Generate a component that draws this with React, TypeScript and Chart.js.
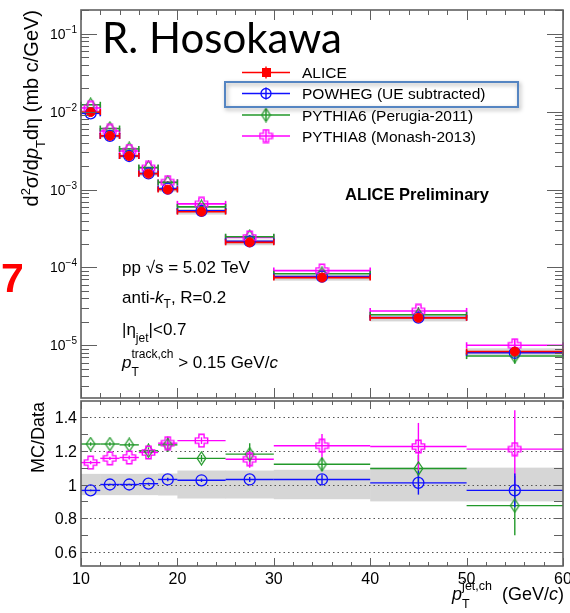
import React, { useEffect, useRef } from "react";
import { Chart, registerables } from "chart.js";

Chart.register(...registerables);

// ---- binning (GeV/c) ----
const binLow = [10, 12, 14, 16, 18, 20, 25, 30, 40, 50];
const binHigh = [12, 14, 16, 18, 20, 25, 30, 40, 50, 60];
const binCenter = [11, 13, 15, 17, 19, 22.5, 27.5, 35, 45, 55];

// ---- cross sections d2sigma/dpT deta (mb c/GeV) ----
const aliceXsec = [9.9e-3, 4.9e-3, 2.7e-3, 1.6e-3, 1.0e-3, 5.2e-4, 2.1e-4, 7.4e-5, 2.25e-5, 8.3e-6];
const aliceStatRel = [0.004, 0.005, 0.006, 0.007, 0.008, 0.008, 0.012, 0.015, 0.03, 0.05];
const aliceSysRel = [0.063, 0.063, 0.063, 0.063, 0.065, 0.083, 0.083, 0.087, 0.1, 0.1];
const powhegXsec = [9.55e-3, 4.9e-3, 2.7e-3, 1.61e-3, 1.03e-3, 5.33e-4, 2.16e-4, 7.62e-5, 2.27e-5, 8.0e-6];
const pythia6Xsec = [1.228e-2, 6.08e-3, 3.33e-3, 1.92e-3, 1.235e-3, 6.0e-4, 2.48e-4, 8.29e-5, 2.46e-5, 7.26e-6];
const pythia8Xsec = [1.119e-2, 5.66e-3, 3.13e-3, 1.9e-3, 1.245e-3, 6.55e-4, 2.42e-4, 9.1e-5, 2.76e-5, 1.0e-5];

// ---- MC / Data ratios ----
const powhegRatio = [0.965, 1.0, 1.0, 1.005, 1.03, 1.025, 1.03, 1.03, 1.01, 0.965];
const powhegRatioErr = [0.005, 0.005, 0.005, 0.006, 0.01, 0.01, 0.015, 0.03, 0.07, 0.1];
const pythia6Ratio = [1.24, 1.24, 1.235, 1.2, 1.235, 1.155, 1.18, 1.12, 1.095, 0.875];
const pythia6RatioErr = [0.01, 0.01, 0.012, 0.02, 0.04, 0.02, 0.065, 0.04, 0.08, 0.175];
const pythia8Ratio = [1.13, 1.155, 1.16, 1.19, 1.245, 1.26, 1.15, 1.23, 1.225, 1.21];
const pythia8RatioErr = [0.01, 0.01, 0.012, 0.02, 0.04, 0.02, 0.05, 0.07, 0.14, 0.23];

// ---- axis tick labels ----
const xTickLabels = [10, 20, 30, 40, 50, 60];
const logDecades = [-5, -4, -3, -2, -1];
const ratioTickLabels = ["0.6", "0.8", "1", "1.2", "1.4"];
const legendLabels = ["ALICE", "POWHEG (UE subtracted)", "PYTHIA6 (Perugia-2011)", "PYTHIA8 (Monash-2013)"];

const RED = "#ff0000";
const BLUE = "#1010ff";
const GREEN = "#22992a";
const MAGENTA = "#ff00ff";
const AXIS = "#606060";
const FONT = '"Liberation Sans", Arial, Helvetica, sans-serif';

type Part = { t: string; s: number; dy?: number; i?: boolean; b?: boolean; alt?: Part };

function fontStr(s: number, i?: boolean, b?: boolean) {
  return `${i ? "italic " : ""}${b ? "bold " : ""}${s}px ${FONT}`;
}
function partAdvance(ctx: CanvasRenderingContext2D, p: Part) {
  ctx.font = fontStr(p.s, p.i, p.b);
  let w = ctx.measureText(p.t).width;
  if (p.alt) {
    ctx.font = fontStr(p.alt.s, p.alt.i, p.alt.b);
    w = Math.max(w, ctx.measureText(p.alt.t).width);
  }
  return w;
}
function drawRich(ctx: CanvasRenderingContext2D, parts: Part[], x: number, y: number, align = "left") {
  let total = 0;
  for (const p of parts) total += partAdvance(ctx, p);
  let cx = align === "right" ? x - total : align === "center" ? x - total / 2 : x;
  ctx.textAlign = "left";
  ctx.textBaseline = "alphabetic";
  for (const p of parts) {
    const adv = partAdvance(ctx, p);
    ctx.font = fontStr(p.s, p.i, p.b);
    ctx.fillText(p.t, cx, y + (p.dy || 0));
    if (p.alt) {
      ctx.font = fontStr(p.alt.s, p.alt.i, p.alt.b);
      ctx.fillText(p.alt.t, cx, y + (p.alt.dy || 0));
    }
    cx += adv;
  }
}

function makeMarker(w: number, h: number, draw: (c: CanvasRenderingContext2D) => void) {
  const cv = document.createElement("canvas");
  cv.width = w;
  cv.height = h;
  const c = cv.getContext("2d")!;
  draw(c);
  return cv;
}
function diamondMarker() {
  return makeMarker(11, 15, (c) => {
    c.strokeStyle = GREEN;
    c.lineWidth = 1.3;
    c.beginPath();
    c.moveTo(5.5, 1);
    c.lineTo(9.8, 7.5);
    c.lineTo(5.5, 14);
    c.lineTo(1.2, 7.5);
    c.closePath();
    c.stroke();
  });
}
function crossMarker() {
  return makeMarker(15, 15, (c) => {
    const a = 2.6;
    const e = 6.2;
    const pts = [
      [-a, -e], [a, -e], [a, -a], [e, -a], [e, a], [a, a],
      [a, e], [-a, e], [-a, a], [-e, a], [-e, -a], [-a, -a],
    ];
    c.strokeStyle = MAGENTA;
    c.lineWidth = 1.4;
    c.beginPath();
    pts.forEach(([px, py], k) => (k === 0 ? c.moveTo(7.5 + px, 7.5 + py) : c.lineTo(7.5 + px, 7.5 + py)));
    c.closePath();
    c.stroke();
  });
}

function line(ctx: CanvasRenderingContext2D, x1: number, y1: number, x2: number, y2: number) {
  ctx.beginPath();
  ctx.moveTo(x1, y1);
  ctx.lineTo(x2, y2);
  ctx.stroke();
}

function toPoints(ys: number[]) {
  return binCenter.map((x, i) => ({ x, y: ys[i] }));
}

export default function App() {
  const topRef = useRef<HTMLCanvasElement | null>(null);
  const botRef = useRef<HTMLCanvasElement | null>(null);

  useEffect(() => {
    const diamond = diamondMarker();
    const cross = crossMarker();

    const drawXTicks = (ctx: CanvasRenderingContext2D, chart: any, major: number, minor: number) => {
      const { top, bottom } = chart.chartArea;
      const xs = chart.scales.x;
      ctx.strokeStyle = AXIS;
      ctx.lineWidth = 1;
      for (let v = 10; v <= 60; v += 2) {
        const px = Math.round(xs.getPixelForValue(v)) + 0.5;
        const L = v % 10 === 0 ? major : minor;
        line(ctx, px, top, px, top + L);
        line(ctx, px, bottom, px, bottom - L);
      }
    };

    const drawFrame = (ctx: CanvasRenderingContext2D, chart: any) => {
      const { left, right, top, bottom } = chart.chartArea;
      ctx.strokeStyle = AXIS;
      ctx.lineWidth = 1.6;
      ctx.strokeRect(left, top, right - left, bottom - top);
    };

    const drawSeriesBars = (
      ctx: CanvasRenderingContext2D, chart: any, vals: number[], errs: number[],
      color: string, width: number, cap: number
    ) => {
      const xs = chart.scales.x;
      const ys = chart.scales.y;
      ctx.strokeStyle = color;
      ctx.lineWidth = width;
      for (let i = 0; i < vals.length; i++) {
        const x1 = xs.getPixelForValue(binLow[i]);
        const x2 = xs.getPixelForValue(binHigh[i]);
        const xc = xs.getPixelForValue(binCenter[i]);
        const y = ys.getPixelForValue(vals[i]);
        line(ctx, x1, y, x2, y);
        if (cap > 0) {
          line(ctx, x1, y - cap, x1, y + cap);
          line(ctx, x2, y - cap, x2, y + cap);
        }
        const yt = ys.getPixelForValue(vals[i] + errs[i]);
        const yb = ys.getPixelForValue(vals[i] - errs[i]);
        line(ctx, xc, yt, xc, yb);
      }
    };

    const topDecor = {
      id: "topDecor",
      beforeDatasetsDraw(chart: any) {
        const ctx: CanvasRenderingContext2D = chart.ctx;
        const xs = chart.scales.x;
        const ys = chart.scales.y;
        ctx.save();
        // ALICE systematic boxes
        ctx.fillStyle = "rgba(200,200,200,0.75)";
        for (let i = 0; i < aliceXsec.length; i++) {
          const x1 = xs.getPixelForValue(binLow[i]);
          const x2 = xs.getPixelForValue(binHigh[i]);
          const y1 = ys.getPixelForValue(aliceXsec[i] * (1 + aliceSysRel[i]));
          const y2 = ys.getPixelForValue(aliceXsec[i] * (1 - aliceSysRel[i]));
          ctx.fillRect(x1, y1, x2 - x1, y2 - y1);
        }
        const relErr = (vals: number[], r: number[], e: number[]) => vals.map((v, i) => (v * e[i]) / r[i]);
        drawSeriesBars(ctx, chart, pythia8Xsec, relErr(pythia8Xsec, pythia8Ratio, pythia8RatioErr), MAGENTA, 1.6, 3);
        drawSeriesBars(ctx, chart, pythia6Xsec, relErr(pythia6Xsec, pythia6Ratio, pythia6RatioErr), GREEN, 1.6, 3);
        drawSeriesBars(ctx, chart, powhegXsec, relErr(powhegXsec, powhegRatio, powhegRatioErr), BLUE, 1.6, 3);
        drawSeriesBars(ctx, chart, aliceXsec, aliceXsec.map((v, i) => v * aliceStatRel[i]), RED, 1.6, 3);
        ctx.restore();
      },
      afterDraw(chart: any) {
        const ctx: CanvasRenderingContext2D = chart.ctx;
        const { left, right } = chart.chartArea;
        const ys = chart.scales.y;
        ctx.save();
        drawXTicks(ctx, chart, 10, 5);
        // log ticks
        ctx.strokeStyle = AXIS;
        ctx.lineWidth = 1;
        for (let d = -7; d <= 0; d++) {
          for (let k = 1; k <= 9; k++) {
            const v = k * Math.pow(10, d);
            if (v < ys.min || v > ys.max) continue;
            const py = Math.round(ys.getPixelForValue(v)) + 0.5;
            const L = k === 1 ? 16 : 8;
            line(ctx, left, py, left + L, py);
            line(ctx, right, py, right - L, py);
          }
        }
        drawFrame(ctx, chart);

        ctx.fillStyle = "#000";
        // y tick labels
        for (const d of logDecades) {
          const py = ys.getPixelForValue(Math.pow(10, d));
          drawRich(ctx, [{ t: "10", s: 14 }, { t: "\u2212" + String(-d), s: 10, dy: -6 }], 77, py + 5, "right");
        }

        // y title (rotated)
        ctx.save();
        ctx.translate(38, 10);
        ctx.rotate(-Math.PI / 2);
        drawRich(
          ctx,
          [
            { t: "d", s: 20 },
            { t: "2", s: 13, dy: -8 },
            { t: "\u03c3/d", s: 20 },
            { t: "p", s: 20, i: true },
            { t: "T", s: 13, dy: 7 },
            { t: "d\u03b7 (mb c/GeV)", s: 20 },
          ],
          0, 0, "right"
        );
        ctx.restore();

        // author tag
        ctx.font = `400 42px Lato, "Open Sans", sans-serif`;
        ctx.textAlign = "left";
        ctx.fillText("R. Hosokawa", 102, 53);

        // slide number
        ctx.fillStyle = RED;
        ctx.font = fontStr(41, false, true);
        ctx.fillText("7", 1, 292);

        // legend
        const rows = [72.5, 93.5, 115, 136];
        const colors = [RED, BLUE, GREEN, MAGENTA];
        rows.forEach((ry, k) => {
          ctx.strokeStyle = colors[k];
          ctx.lineWidth = 1.4;
          line(ctx, 242, ry, 290, ry);
          line(ctx, 266, ry - 6, 266, ry + 6);
          if (k === 0) {
            ctx.fillStyle = RED;
            ctx.fillRect(262, ry - 4.5, 9, 9);
          } else if (k === 1) {
            ctx.lineWidth = 1.3;
            ctx.beginPath();
            ctx.arc(266, ry, 5, 0, Math.PI * 2);
            ctx.stroke();
          } else if (k === 2) {
            ctx.drawImage(diamond, 266 - diamond.width / 2, ry - diamond.height / 2);
          } else {
            ctx.drawImage(cross, 266 - cross.width / 2, ry - cross.height / 2);
          }
          ctx.fillStyle = "#000";
          ctx.font = fontStr(15.5);
          ctx.fillText(legendLabels[k], 302, ry + 5.5);
        });
        // highlight box round the POWHEG entry
        ctx.save();
        ctx.shadowColor = "rgba(0,0,0,0.35)";
        ctx.shadowBlur = 4;
        ctx.shadowOffsetX = 1.5;
        ctx.shadowOffsetY = 2;
        ctx.strokeStyle = "#5585c2";
        ctx.lineWidth = 2;
        ctx.strokeRect(225, 82, 293, 25);
        ctx.restore();

        // labels
        ctx.fillStyle = "#000";
        ctx.font = fontStr(16.5, false, true);
        ctx.fillText("ALICE Preliminary", 345, 200);

        drawRich(ctx, [{ t: "pp \u221As = 5.02 TeV", s: 17 }], 122, 273);
        drawRich(ctx, [{ t: "anti-", s: 17 }, { t: "k", s: 17, i: true }, { t: "T", s: 12, dy: 5 }, { t: ", R=0.2", s: 17 }], 122, 303);
        drawRich(ctx, [{ t: "|\u03b7", s: 17 }, { t: "jet", s: 12, dy: 7 }, { t: "|<0.7", s: 17 }], 122, 335);
        drawRich(
          ctx,
          [
            { t: "p", s: 17, i: true },
            { t: "track,ch", s: 12, dy: -10, alt: { t: "T", s: 12, dy: 8 } },
            { t: " > 0.15 GeV/", s: 17 },
            { t: "c", s: 17, i: true },
          ],
          122, 368
        );
        ctx.restore();
      },
    };

    const botDecor = {
      id: "botDecor",
      beforeDatasetsDraw(chart: any) {
        const ctx: CanvasRenderingContext2D = chart.ctx;
        const xs = chart.scales.x;
        const ys = chart.scales.y;
        const { left, right } = chart.chartArea;
        ctx.save();
        // ALICE systematic band
        ctx.fillStyle = "#d6d6d6";
        for (let i = 0; i < aliceSysRel.length; i++) {
          const x1 = xs.getPixelForValue(binLow[i]);
          const x2 = xs.getPixelForValue(binHigh[i]);
          const y1 = ys.getPixelForValue(1 + aliceSysRel[i]);
          const y2 = ys.getPixelForValue(1 - aliceSysRel[i]);
          ctx.fillRect(x1, y1, x2 - x1 + 0.5, y2 - y1);
        }
        // dotted reference lines
        ctx.strokeStyle = "#555";
        ctx.lineWidth = 1;
        ctx.setLineDash([1.5, 3]);
        for (const lab of ratioTickLabels) {
          const py = Math.round(ys.getPixelForValue(parseFloat(lab))) + 0.5;
          line(ctx, left, py, right, py);
        }
        ctx.setLineDash([]);
        drawSeriesBars(ctx, chart, pythia6Ratio, pythia6RatioErr, GREEN, 1.4, 0);
        drawSeriesBars(ctx, chart, pythia8Ratio, pythia8RatioErr, MAGENTA, 1.4, 0);
        drawSeriesBars(ctx, chart, powhegRatio, powhegRatioErr, BLUE, 1.4, 0);
        ctx.restore();
      },
      afterDraw(chart: any) {
        const ctx: CanvasRenderingContext2D = chart.ctx;
        const { left, right, bottom } = chart.chartArea;
        const xs = chart.scales.x;
        const ys = chart.scales.y;
        ctx.save();
        drawXTicks(ctx, chart, 8, 4);
        ctx.strokeStyle = AXIS;
        ctx.lineWidth = 1;
        for (let v = 6; v <= 14; v++) {
          const py = Math.round(ys.getPixelForValue(v / 10)) + 0.5;
          line(ctx, left, py, left + 7, py);
          line(ctx, right, py, right - 9, py);
        }
        drawFrame(ctx, chart);

        ctx.fillStyle = "#000";
        ctx.font = fontStr(16);
        ctx.textAlign = "right";
        ctx.textBaseline = "alphabetic";
        for (const lab of ratioTickLabels) {
          const py = ys.getPixelForValue(parseFloat(lab));
          ctx.fillText(lab, 77, py + 6);
        }
        ctx.textAlign = "center";
        for (const v of xTickLabels) {
          ctx.fillText(String(v), xs.getPixelForValue(v), bottom + 18);
        }

        // y title
        ctx.save();
        ctx.translate(44, 12);
        ctx.rotate(-Math.PI / 2);
        drawRich(ctx, [{ t: "MC/Data", s: 18 }], 0, 0, "right");
        ctx.restore();

        // x title
        drawRich(
          ctx,
          [
            { t: "p", s: 18, i: true },
            { t: "jet,ch", s: 12.5, dy: -10, alt: { t: "T", s: 12.5, dy: 8 } },
            { t: "  (GeV/", s: 18 },
            { t: "c", s: 18, i: true },
            { t: ")", s: 18 },
          ],
          564, bottom + 34, "right"
        );
        ctx.restore();
      },
    };

    const common = {
      responsive: false,
      animation: false as const,
      devicePixelRatio: 1,
      events: [] as any[],
      plugins: { legend: { display: false }, tooltip: { enabled: false } },
    };

    const topChart = new Chart(topRef.current!, {
      type: "scatter",
      data: {
        datasets: [
          { label: "ALICE", data: toPoints(aliceXsec), pointStyle: "circle", pointRadius: 4.5, backgroundColor: RED, borderColor: RED, borderWidth: 1 },
          { label: "PYTHIA8", data: toPoints(pythia8Xsec), pointStyle: cross as any, pointRadius: 6 },
          { label: "PYTHIA6", data: toPoints(pythia6Xsec), pointStyle: diamond as any, pointRadius: 6 },
          { label: "POWHEG", data: toPoints(powhegXsec), pointStyle: "circle", pointRadius: 5.5, backgroundColor: "rgba(0,0,0,0)", borderColor: BLUE, borderWidth: 1.3 },
        ],
      },
      options: {
        ...common,
        layout: { padding: { left: 81, right: 7, top: 10, bottom: 5 } },
        scales: {
          x: { type: "linear", min: 10, max: 60, display: false },
          y: { type: "logarithmic", min: 2.1e-6, max: 0.2028, display: false },
        },
      } as any,
      plugins: [topDecor],
    });

    const botChart = new Chart(botRef.current!, {
      type: "scatter",
      data: {
        datasets: [
          { label: "PYTHIA8", data: toPoints(pythia8Ratio), pointStyle: cross as any, pointRadius: 6 },
          { label: "PYTHIA6", data: toPoints(pythia6Ratio), pointStyle: diamond as any, pointRadius: 6 },
          { label: "POWHEG", data: toPoints(powhegRatio), pointStyle: "circle", pointRadius: 5.5, backgroundColor: "rgba(0,0,0,0)", borderColor: BLUE, borderWidth: 1.3 },
        ],
      },
      options: {
        ...common,
        layout: { padding: { left: 81, right: 7, top: 11, bottom: 47 } },
        scales: {
          x: { type: "linear", min: 10, max: 60, display: false },
          y: { type: "linear", min: 0.517, max: 1.495, display: false },
        },
      } as any,
      plugins: [botDecor],
    });

    return () => {
      topChart.destroy();
      botChart.destroy();
    };
  }, []);

  return (
    <div style={{ position: "absolute", left: 0, top: 0, width: 570, height: 613, background: "#fff" }}>
      <canvas ref={topRef} width={570} height={405} style={{ position: "absolute", left: 0, top: 0, width: 570, height: 405 }} />
      <canvas ref={botRef} width={570} height={223} style={{ position: "absolute", left: 0, top: 390, width: 570, height: 223 }} />
    </div>
  );
}
